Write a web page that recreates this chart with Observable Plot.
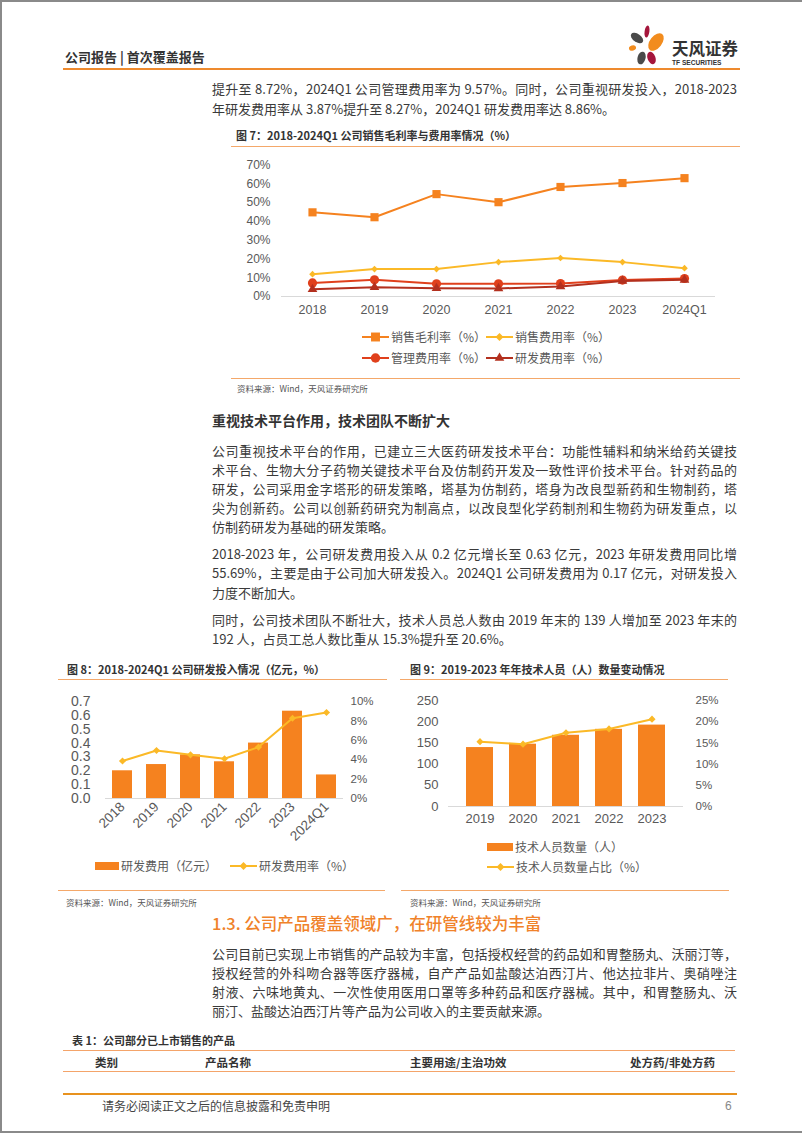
<!DOCTYPE html>
<html><head><meta charset="utf-8">
<script src="https://cdn.jsdelivr.net/npm/d3@7"></script>
<script src="https://cdn.jsdelivr.net/npm/@observablehq/plot@0.6"></script>
<style>
body{margin:0;background:#fff;}
#page{position:relative;width:802px;height:1133px;overflow:hidden;font-family:"Noto Sans CJK SC","Noto Sans",sans-serif;color:#333;background:#fff;}
.a{position:absolute;white-space:nowrap;}
.ln{position:absolute;left:212px;width:525px;font-size:13px;line-height:19px;height:19px;text-align:justify;text-align-last:justify;color:#3a3a3a;}
.ln.last{text-align-last:left;}
.ttl{position:absolute;font-size:11px;font-weight:bold;color:#333;white-space:nowrap;line-height:14px;}
.src{position:absolute;font-size:8.5px;color:#555;white-space:nowrap;line-height:12px;}
.hr{position:absolute;height:0;}
.leg{position:absolute;display:flex;align-items:center;font-size:12px;color:#595959;white-space:nowrap;line-height:16px;height:16px;}
.leg svg{margin-right:2px;}
.chart{position:absolute;}
.chart svg{overflow:visible;background:transparent;}
</style></head>
<body><div id="page"></div>
<script>
// ---------- DATA ----------
const years = ["2018","2019","2020","2021","2022","2023","2024Q1"];
const grossMargin = [44.8, 42.2, 54.5, 50.2, 58.3, 60.4, 63.0];
const sellingExpenseRate = [11.9, 14.6, 14.6, 18.3, 20.5, 18.3, 15.1];
const adminExpenseRate = [7.2, 8.9, 6.8, 6.8, 6.9, 8.72, 9.57];
const rdExpenseRate = [3.87, 4.9, 4.4, 4.3, 5.3, 8.27, 8.86];
const fig7Ticks = [0, 10, 20, 30, 40, 50, 60, 70];
const fig7Names = ["销售毛利率（%）", "销售费用率（%）", "管理费用率（%）", "研发费用率（%）"];

const rdExpense = [0.20, 0.245, 0.315, 0.265, 0.40, 0.63, 0.17];
const rdRateFig8 = [3.87, 4.95, 4.5, 4.1, 5.3, 8.27, 8.86];
const fig8LeftTicks = [0, 0.1, 0.2, 0.3, 0.4, 0.5, 0.6, 0.7];
const fig8RightTicks = [0, 2, 4, 6, 8, 10];
const fig8Names = ["研发费用（亿元）", "研发费用率（%）"];

const staffYears = ["2019","2020","2021","2022","2023"];
const techStaff = [139, 147, 168, 182, 192];
const techStaffShare = [15.3, 14.7, 17.4, 18.3, 20.6];
const fig9LeftTicks = [0, 50, 100, 150, 200, 250];
const fig9RightTicks = [0, 5, 10, 15, 20, 25];
const fig9Names = ["技术人员数量（人）", "技术人员数量占比（%）"];

// ---------- STYLE ----------
const ORANGE = "#F5821F", YELLOW = "#FBB927", RED = "#E0401C", DARKRED = "#B3301E";
const LINE_OR = "#F4A86A";
const chartFont = '"Liberation Sans", Arial, "Noto Sans CJK SC", sans-serif';
const page = document.getElementById("page");

function add(html){ page.insertAdjacentHTML("beforeend", html); }
function hline(x1, x2, y, w, color){ add(`<div class="hr" style="left:${x1}px;top:${y - w/2}px;width:${x2-x1}px;border-top:${w}px solid ${color}"></div>`); }
function text(cls, x, yc, h, s, extra=""){ add(`<div class="${cls}" style="left:${x}px;top:${yc - h/2}px;${extra}">${s}</div>`); }

// page border
add(`<div class="a" style="left:0;top:0;width:800px;height:1129px;border:2px solid #8a8a8a;"></div>`);

// header
text("a", 65, 57, 18, "公司报告 | 首次覆盖报告", "font-size:13px;font-weight:bold;line-height:18px;color:#333;");
hline(63, 740, 69, 2, "#EE8A2E");
// logo
add(`<svg class="a" style="left:620px;top:22px" width="52" height="46" viewBox="620 22 52 46">
<ellipse cx="637" cy="38" rx="7" ry="4" transform="rotate(35 637 38)" fill="#4a4a4a"/>
<ellipse cx="647" cy="31.5" rx="2.4" ry="6" transform="rotate(8 647 31.5)" fill="#A5163C"/>
<ellipse cx="656" cy="42" rx="6" ry="10" transform="rotate(38 656 42)" fill="#F28C1E"/>
<ellipse cx="632.5" cy="48" rx="3.6" ry="2.6" transform="rotate(-20 632.5 48)" fill="#F28C1E"/>
<ellipse cx="641.5" cy="58" rx="4" ry="6.5" transform="rotate(15 641.5 58)" fill="#4a4a4a"/>
<ellipse cx="651.5" cy="58" rx="4" ry="6.5" transform="rotate(-20 651.5 58)" fill="#A5163C"/>
</svg>`);
text("a", 672, 48, 20, "天风证券", "font-size:16.5px;font-weight:bold;line-height:20px;color:#333;");
text("a", 672, 63, 8, "TF SECURITIES", "font-size:6.6px;font-weight:bold;line-height:8px;color:#333;font-family:'Liberation Sans',Arial,sans-serif;");

// body paragraphs
function para(lines, y0, step){
  lines.forEach((s, i) => {
    const last = i === lines.length - 1 ? " last" : "";
    add(`<div class="ln${last}" style="top:${y0 + i*step - 9.5}px">${s}</div>`);
  });
}
para(["提升至 8.72%，2024Q1 公司管理费用率为 9.57%。同时，公司重视研发投入，2018-2023",
      "年研发费用率从 3.87%提升至 8.27%，2024Q1 研发费用率达 8.86%。"], 88, 20);

text("ttl", 236, 135, 14, "图 7：2018-2024Q1 公司销售毛利率与费用率情况（%）");
hline(231, 740, 146, 1, LINE_OR);
hline(231, 740, 378, 1, LINE_OR);
text("src", 237, 388, 12, "资料来源：Wind，天风证券研究所");

text("a", 212, 420, 20, "重视技术平台作用，技术团队不断扩大", "font-size:14px;font-weight:bold;line-height:20px;color:#333;");
para(["公司重视技术平台的作用，已建立三大医药研发技术平台：功能性辅料和纳米给药关键技",
      "术平台、生物大分子药物关键技术平台及仿制药开发及一致性评价技术平台。针对药品的",
      "研发，公司采用金字塔形的研发策略，塔基为仿制药，塔身为改良型新药和生物制药，塔",
      "尖为创新药。公司以创新药研究为制高点，以改良型化学药制剂和生物药为研发重点，以",
      "仿制药研发为基础的研发策略。"], 450, 19.1);
para(["2018-2023 年，公司研发费用投入从 0.2 亿元增长至 0.63 亿元，2023 年研发费用同比增",
      "55.69%，主要是由于公司加大研发投入。2024Q1 公司研发费用为 0.17 亿元，对研发投入",
      "力度不断加大。"], 553, 19.5);
para(["同时，公司技术团队不断壮大，技术人员总人数由 2019 年末的 139 人增加至 2023 年末的",
      "192 人，占员工总人数比重从 15.3%提升至 20.6%。"], 619, 19.5);

text("ttl", 67, 669, 14, "图 8：2018-2024Q1 公司研发投入情况（亿元，%）");
text("ttl", 410, 669, 14, "图 9：2019-2023 年年技术人员（人）数量变动情况");
hline(58, 387, 679.5, 1, LINE_OR);
hline(400, 728, 679.5, 1, LINE_OR);
hline(58, 385, 890, 1, LINE_OR);
hline(401, 729, 890, 1, LINE_OR);
text("src", 66, 902, 12, "资料来源：Wind，天风证券研究所");
text("src", 410, 902, 12, "资料来源：Wind，天风证券研究所");

text("a", 212, 923, 22, "1.3. 公司产品覆盖领域广，在研管线较为丰富", "font-size:16.5px;font-weight:500;line-height:22px;color:#F0822A;");
para(["公司目前已实现上市销售的产品较为丰富，包括授权经营的药品如和胃整肠丸、沃丽汀等，",
      "授权经营的外科吻合器等医疗器械，自产产品如盐酸达泊西汀片、他达拉非片、奥硝唑注",
      "射液、六味地黄丸、一次性使用医用口罩等多种药品和医疗器械。其中，和胃整肠丸、沃",
      "丽汀、盐酸达泊西汀片等产品为公司收入的主要贡献来源。"], 953, 19.2);

text("ttl", 72, 1040, 14, "表 1：公司部分已上市销售的产品");
hline(63, 735, 1051, 1.5, "#F4A46A");
const th = "font-size:11.5px;font-weight:bold;line-height:16px;color:#333;";
text("a", 95, 1062, 16, "类别", th);
text("a", 205, 1062, 16, "产品名称", th);
text("a", 410, 1062, 16, "主要用途/主治功效", th);
text("a", 630, 1062, 16, "处方药/非处方药", th);
hline(63, 735, 1072, 1.5, "#F4A46A");
hline(63, 737, 1094, 2.5, "#E8921E");
text("a", 102, 1106, 16, "请务必阅读正文之后的信息披露和免责申明", "font-size:12px;line-height:16px;color:#444;");
text("a", 725, 1106, 16, "6", "font-size:12px;line-height:16px;color:#888;font-family:'Liberation Sans',Arial,sans-serif;");

// ---------- legends ----------
function sym(type, size){ return d3.symbol(type, size)(); }
function legLine(x, yc, color, symType, symSize, label){
  add(`<div class="leg" style="left:${x}px;top:${yc-8}px"><svg width="27" height="12"><line x1="0" y1="6" x2="27" y2="6" stroke="${color}" stroke-width="2"/><path d="${sym(symType, symSize)}" transform="translate(13.5,6)" fill="${color}"/></svg>${label}</div>`);
}
function legBar(x, yc, color, label, w){
  add(`<div class="leg" style="left:${x}px;top:${yc-8}px"><svg width="${w}" height="12"><rect x="0" y="2" width="${w}" height="8" fill="${color}"/></svg>${label}</div>`);
}
legLine(362, 337, ORANGE, d3.symbolSquare, 80, fig7Names[0]);
legLine(486, 337, YELLOW, d3.symbolDiamond2, 40, fig7Names[1]);
legLine(362, 358, RED, d3.symbolCircle, 70, fig7Names[2]);
legLine(486, 358, DARKRED, d3.symbolTriangle, 40, fig7Names[3]);
legBar(95, 866, ORANGE, fig8Names[0], 24);
legLine(230, 866, YELLOW, d3.symbolDiamond2, 40, fig8Names[1]);
legBar(487, 847, ORANGE, fig9Names[0], 26);
legLine(487, 867, YELLOW, d3.symbolDiamond2, 40, fig9Names[1]);

// ---------- FIG 7 ----------
const fig7Series = [
  {vals: grossMargin, color: ORANGE, symbol: "square", r: 4.6},
  {vals: sellingExpenseRate, color: YELLOW, symbol: "diamond2", r: 3.0},
  {vals: adminExpenseRate, color: RED, symbol: "circle", r: 4.6},
  {vals: rdExpenseRate, color: DARKRED, symbol: "triangle", r: 3.6}
];
const fig7Marks = [Plot.ruleY([0], {stroke: "#D9D9D9", strokeWidth: 1})];
fig7Series.forEach((s, k) => {
  const rows = years.map((y, i) => ({year: y, v: s.vals[i], name: fig7Names[k]}));
  fig7Marks.push(Plot.line(rows, {x: "year", y: "v", stroke: s.color, strokeWidth: 2}));
  fig7Marks.push(Plot.dot(rows, {x: "year", y: "v", fill: s.color, stroke: "none", symbol: s.symbol, r: s.r}));
});
const fig7 = Plot.plot({
  width: 540, height: 175, marginTop: 14.5, marginBottom: 29, marginLeft: 81, marginRight: 25,
  style: {fontFamily: chartFont, fontSize: "12px", color: "#595959", background: "transparent"},
  x: {type: "point", domain: years, padding: 0.5},
  y: {domain: [0, 70]},
  marks: [
    Plot.axisY(fig7Ticks, {tickSize: 0, tickPadding: 11, tickFormat: d => d + "%", label: null, fontSize: 12}),
    Plot.axisX({tickSize: 0, tickPadding: 9, label: null, fontSize: 12.5}),
    ...fig7Marks
  ]
});
const w7 = document.createElement("div"); w7.className = "chart"; w7.style.left = "200px"; w7.style.top = "150px";
w7.appendChild(fig7); page.appendChild(w7);

// ---------- FIG 8 ----------
const rows8 = years.map((y, i) => ({year: y, exp: rdExpense[i], rate: rdRateFig8[i]}));
const k8 = 0.7 / 10; // right axis (0–10%) mapped onto left axis (0–0.7)
const fig8 = Plot.plot({
  width: 350, height: 160, marginTop: 11, marginBottom: 52, marginLeft: 65, marginRight: 47,
  style: {fontFamily: chartFont, fontSize: "13.5px", color: "#595959", background: "transparent"},
  x: {type: "band", domain: years, padding: 0.41, paddingOuter: 0.2},
  y: {domain: [0, 0.7]},
  marks: [
    Plot.axisY(fig8LeftTicks, {tickSize: 0, tickPadding: 15, tickFormat: d => d.toFixed(1), label: null, fontSize: 14}),
    Plot.axisY(fig8RightTicks.map(v => v * k8), {anchor: "right", tickSize: 0, tickPadding: 7, tickFormat: d => Math.round(d / k8) + "%", label: null, fontSize: 11.5}),
    Plot.barY(rows8, {x: "year", y: "exp", fill: ORANGE}),
    Plot.ruleY([0], {stroke: "#D9D9D9"}),
    Plot.axisX({tickSize: 0, tickPadding: 6, tickRotate: -45, label: null, fontSize: 13.5}),
    Plot.line(rows8, {x: "year", y: d => d.rate * k8, stroke: YELLOW, strokeWidth: 2}),
    Plot.dot(rows8, {x: "year", y: d => d.rate * k8, fill: YELLOW, stroke: "none", symbol: "diamond2", r: 3.2})
  ]
});
const w8 = document.createElement("div"); w8.className = "chart"; w8.style.left = "40px"; w8.style.top = "690px";
w8.appendChild(fig8); page.appendChild(w8);

// ---------- FIG 9 ----------
const rows9 = staffYears.map((y, i) => ({year: y, n: techStaff[i], share: techStaffShare[i]}));
const k9 = 250 / 25;
const fig9 = Plot.plot({
  width: 330, height: 135, marginTop: 10, marginBottom: 19, marginLeft: 48, marginRight: 47,
  style: {fontFamily: chartFont, fontSize: "12.5px", color: "#595959", background: "transparent"},
  x: {type: "band", domain: staffYears, padding: 0.38},
  y: {domain: [0, 250]},
  marks: [
    Plot.axisY(fig9LeftTicks, {tickSize: 0, tickPadding: 10, label: null, fontSize: 13}),
    Plot.axisY(fig9RightTicks.map(v => v * k9), {anchor: "right", tickSize: 0, tickPadding: 12, tickFormat: d => Math.round(d / k9) + "%", label: null, fontSize: 11.5}),
    Plot.barY(rows9, {x: "year", y: "n", fill: ORANGE}),
    Plot.ruleY([0], {stroke: "#D9D9D9"}),
    Plot.axisX({tickSize: 0, tickPadding: 7, label: null, fontSize: 13}),
    Plot.line(rows9, {x: "year", y: d => d.share * k9, stroke: YELLOW, strokeWidth: 2}),
    Plot.dot(rows9, {x: "year", y: d => d.share * k9, fill: YELLOW, stroke: "none", symbol: "diamond2", r: 3.2})
  ]
});
const w9 = document.createElement("div"); w9.className = "chart"; w9.style.left = "400px"; w9.style.top = "690px";
w9.appendChild(fig9); page.appendChild(w9);
</script>
</body></html>
